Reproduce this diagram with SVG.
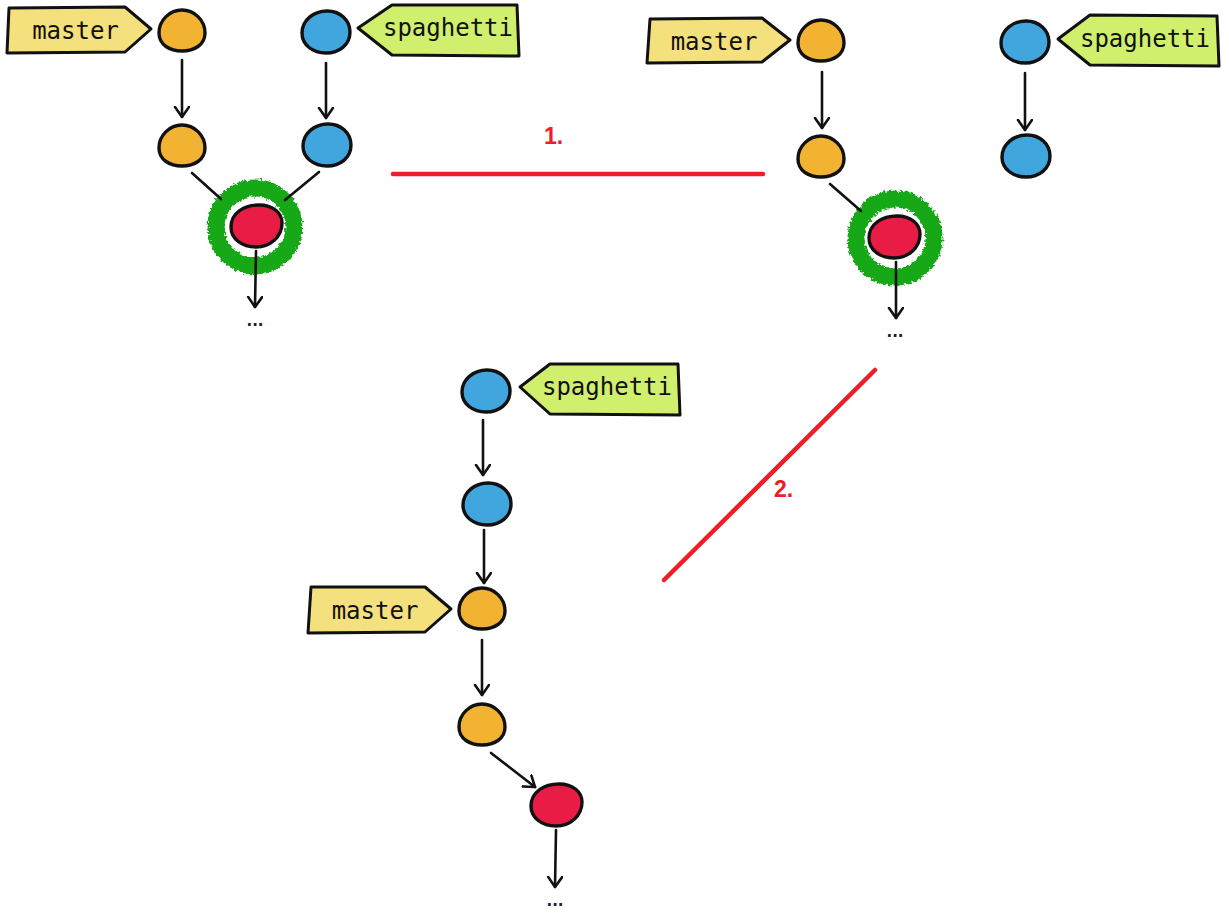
<svg xmlns="http://www.w3.org/2000/svg" width="1229" height="915" viewBox="0 0 1229 915">
<style>
.tag{stroke:#111;stroke-width:3;stroke-linejoin:round}
.master{fill:#f4e07c}
.spag{fill:#d0ef6c}
.lbl{font-family:"DejaVu Sans Mono","Liberation Mono",monospace;font-size:24px;fill:#111;text-anchor:middle}
.node{stroke:#111;stroke-width:3.4}
.o{fill:#f2b332}
.b{fill:#41a6dd}
.r{fill:#e81c45}
.ring{fill:#fff;stroke:#14a814;stroke-width:17;filter:url(#rough)}
.edge{stroke:#111;stroke-width:2.6;fill:none;stroke-linecap:round}
.arr{marker-end:url(#ah)}
.step{stroke:#ee1d27;stroke-width:4.5;stroke-linecap:round}
.num{font-family:"Liberation Sans",Arial,sans-serif;font-weight:bold;font-size:23px;fill:#ee1d27}
.dots{font-family:"DejaVu Sans",sans-serif;font-weight:bold;font-size:15px;fill:#1a1a3a;text-anchor:middle}
</style>
<defs>
<marker id="ah" markerUnits="userSpaceOnUse" markerWidth="16" markerHeight="18" refX="11" refY="8" orient="auto">
<path d="M1,1 L11,8 L1,15" fill="none" stroke="#111" stroke-width="2.6" stroke-linecap="round" stroke-linejoin="round"/>
</marker>
<filter id="rough" x="-30%" y="-30%" width="160%" height="160%">
<feTurbulence type="fractalNoise" baseFrequency="0.35" numOctaves="2" seed="3" result="n"/>
<feDisplacementMap in="SourceGraphic" in2="n" scale="6" xChannelSelector="R" yChannelSelector="G"/>
</filter>
<path id="ob" d="M-23,2 C-23,-11 -12,-21 0,-21 C12,-21 23,-11 23,2 C23,14 12,20 0,20 C-12,20 -23,14 -23,2 Z"/>
<path id="bb" d="M-24,1 C-24,-12 -12,-21 1,-21 C14,-21 24,-12 24,0 C24,13 13,21 0,21 C-13,21 -24,13 -24,1 Z"/>
<path id="rb" d="M-25,1 C-25,-13 -12,-21 3,-21 C17,-21 26,-13 26,-3 C26,11 14,21 0,21 C-14,21 -25,13 -25,1 Z"/>
</defs>

<!-- Panel 1 -->
<g id="p1-master-tag">
<polygon class="tag master" points="9,8 125,7 151,29 125,52 7,53"/>
<text class="lbl" x="75.5" y="39">master</text>
</g>
<g id="p1-spaghetti-tag">
<polygon class="tag spag" points="358,28 392,5 517,5 519,56 392,55"/>
<text class="lbl" x="448" y="36">spaghetti</text>
</g>
<g id="p1-o1"><use href="#ob" class="node o" x="182" y="31"/></g>
<g id="p1-o2"><use href="#ob" class="node o" x="182" y="146"/></g>
<g id="p1-b1"><use href="#bb" class="node b" x="326" y="32"/></g>
<g id="p1-b2"><use href="#bb" class="node b" x="327" y="145"/></g>
<g id="p1-merge">
<circle class="ring" cx="255" cy="227" r="39"/>
<use href="#rb" class="node r" x="256" y="226"/>
</g>
<text class="dots" x="255" y="326">...</text>

<!-- Panel 2 -->
<g id="p2-master-tag">
<polygon class="tag master" points="650,19 762,18 790,40 762,62 647,63"/>
<text class="lbl" x="714" y="50">master</text>
</g>
<g id="p2-spaghetti-tag">
<polygon class="tag spag" points="1058,39 1090,15 1217,16 1219,66 1090,65"/>
<text class="lbl" x="1145" y="47">spaghetti</text>
</g>
<g id="p2-o1"><use href="#ob" class="node o" x="821" y="41"/></g>
<g id="p2-o2"><use href="#ob" class="node o" x="821" y="157"/></g>
<g id="p2-b1"><use href="#bb" class="node b" x="1025" y="42"/></g>
<g id="p2-b2"><use href="#bb" class="node b" x="1026" y="156"/></g>
<g id="p2-merge">
<circle class="ring" cx="895" cy="238" r="39"/>
<use href="#rb" class="node r" x="894" y="237"/>
</g>
<text class="dots" x="895" y="337">...</text>

<!-- Panel 3 -->
<g id="p3-spaghetti-tag">
<polygon class="tag spag" points="520,387 550,364 678,364 680,415 550,414"/>
<text class="lbl" x="607" y="395">spaghetti</text>
</g>
<g id="p3-master-tag">
<polygon class="tag master" points="311,587 425,587 451,609 425,632 308,633"/>
<text class="lbl" x="375" y="619">master</text>
</g>
<g id="p3-b1"><use href="#bb" class="node b" x="486" y="391"/></g>
<g id="p3-b2"><use href="#bb" class="node b" x="487" y="504"/></g>
<g id="p3-o1"><use href="#ob" class="node o" x="482" y="609"/></g>
<g id="p3-o2"><use href="#ob" class="node o" x="482" y="725"/></g>
<g id="p3-r"><use href="#rb" class="node r" x="556" y="805"/></g>
<text class="dots" x="555" y="906">...</text>

<!-- connectors -->
<g id="connectors">
<line class="edge arr" x1="182" y1="60" x2="182" y2="117"/>
<line class="edge arr" x1="326" y1="63" x2="326" y2="118"/>
<line class="edge" x1="192" y1="173" x2="221" y2="199"/>
<line class="edge" x1="319" y1="172" x2="285" y2="200"/>
<line class="edge arr" x1="256" y1="251" x2="255" y2="307"/>

<line class="edge arr" x1="822" y1="72" x2="822" y2="128"/>
<line class="edge arr" x1="1025" y1="73" x2="1025" y2="130"/>
<line class="edge" x1="830" y1="184" x2="861" y2="211"/>
<line class="edge arr" x1="896" y1="262" x2="896" y2="318"/>

<line class="edge arr" x1="483" y1="420" x2="483" y2="475"/>
<line class="edge arr" x1="484" y1="530" x2="484" y2="583"/>
<line class="edge arr" x1="482" y1="640" x2="482" y2="695"/>
<line class="edge arr" x1="491" y1="753" x2="535" y2="787"/>
<line class="edge arr" x1="556" y1="830" x2="555" y2="887"/>
</g>

<!-- transitions -->
<g id="steps">
<line class="step" x1="393" y1="174" x2="763" y2="174"/>
<text class="num" x="544" y="144">1.</text>
<line class="step" x1="875" y1="370" x2="664" y2="580"/>
<text class="num" x="774" y="497">2.</text>
</g>
</svg>
